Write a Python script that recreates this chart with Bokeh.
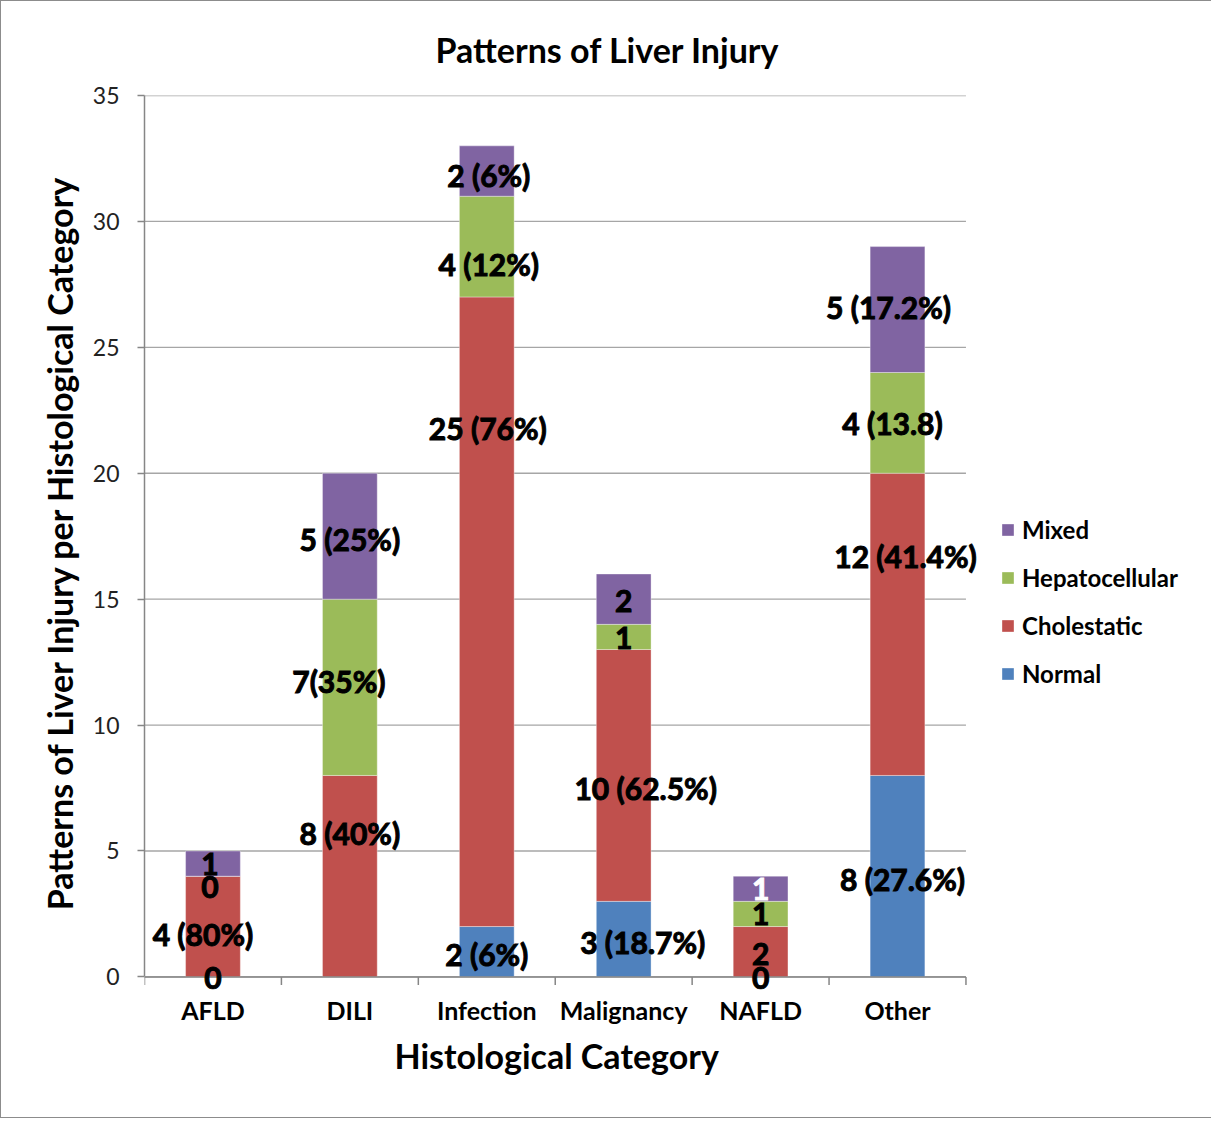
from bokeh.plotting import figure
from bokeh.models import ColumnDataSource, FixedTicker, Legend, LegendItem, Range1d, Title
from bokeh.core.properties import value
from bokeh.embed import file_html
from bokeh.resources import INLINE

# ---------------- data ----------------
categories = ["AFLD", "DILI", "Infection", "Malignancy", "NAFLD", "Other"]
series = ["Normal", "Cholestatic", "Hepatocellular", "Mixed"]
normal = [0, 0, 2, 3, 0, 8]
cholestatic = [4, 8, 25, 10, 2, 12]
hepatocellular = [0, 7, 4, 1, 1, 4]
mixed = [1, 5, 2, 2, 1, 5]

normal_labels = ["0", "", "2 (6%)", "3 (18.7%)", "0", "8 (27.6%)"]
cholestatic_labels = ["4 (80%)", "8 (40%)", "25 (76%)", "10 (62.5%)", "2", "12 (41.4%)"]
hepatocellular_labels = ["0", "7(35%)", "4 (12%)", "1", "1", "4 (13.8)"]
mixed_labels = ["1", "5 (25%)", "2 (6%)", "2", "1", "5 (17.2%)"]

y_ticks = [0, 5, 10, 15, 20, 25, 30, 35]

title_text = "Patterns of Liver Injury"
x_title = "Histological Category"
y_title = "Patterns of Liver Injury per Histological Category"

# ---------------- style ----------------
colors = ["#4F81BD", "#C0504D", "#9BBB59", "#8064A2"]
FONT = "Lato"
LABEL_SIZE = "30px"
AXIS_COLOR = "#868686"
GRID_COLOR = "#A6A6A6"
PX_PER_UNIT = 25.18          # frame height / y span
TICK_LEN = 8 / PX_PER_UNIT   # boundary tick length (8 px) in data units
PAD_BELOW = 0.5              # room below the zero line so labels on it are not cut
PAD_RIGHT = 0.15             # room right of the last bar for its wide label
# label nudges in screen pixels (dx right, dy down), as placed in the original
nudge_dx = [[0, 0, 0, 19, 0, 5],
            [-10, 0, 1, 22, 0, 8],
            [-3, -11, 2, 0, 0, -5],
            [-3, 0, 2, 0, 0, -9]]
nudge_dy = [[1, 0, 2, 3, 1, 3],
            [7, -43, -184, 13, 2, -68],
            [11, -6, 17, 1, 0, 0],
            [0, 3, 4, 2, 0, -3]]
label_colors = [["black"] * 6, ["black"] * 6, ["black"] * 6,
                ["black", "black", "black", "black", "white", "black"]]

# ---------------- build ----------------
n = len(categories)
xs = [i + 0.5 for i in range(n)]
values = [normal, cholestatic, hepatocellular, mixed]
labels = [normal_labels, cholestatic_labels, hepatocellular_labels, mixed_labels]
y_max = y_ticks[-1]

data = {"x": xs}
for name, vals in zip(series, values):
    data[name] = vals
source = ColumnDataSource(data)

p = figure(
    frame_width=842, frame_height=894,
    min_border_left=143, min_border_right=208,
    min_border_top=94, min_border_bottom=128,
    x_range=Range1d(0, n + PAD_RIGHT), y_range=Range1d(-PAD_BELOW, y_max),
    output_backend="svg", toolbar_location=None,
    background_fill_color="white", border_fill_color="white",
)
p.styles = {"border": "1px solid #8c8c8c"}
p.outline_line_color = None
p.xgrid.visible = False
p.ygrid.visible = False

# horizontal gridlines across the category span
p.segment(x0=[0] * len(y_ticks), x1=[n] * len(y_ticks), y0=y_ticks, y1=y_ticks,
          line_color=GRID_COLOR, line_width=1.3)

renderers = p.vbar_stack(series, x="x", width=0.4, source=source,
                         color=colors, line_color="white", line_width=0.6, line_alpha=0.6)

# category axis line at zero with boundary ticks
p.segment(x0=[0], x1=[n], y0=[0], y1=[0], line_color=AXIS_COLOR, line_width=1.5)
bounds = list(range(n + 1))
p.segment(x0=bounds, x1=bounds, y0=[0] * len(bounds), y1=[-TICK_LEN] * len(bounds),
          line_color=AXIS_COLOR, line_width=1.5)

# data labels
lx, ly, lt, ldx, ldy, lc = [], [], [], [], [], []
base = [0] * n
for s in range(len(series)):
    for i in range(n):
        v = values[s][i]
        if labels[s][i] != "":
            lx.append(xs[i])
            ly.append(base[i] + v / 2)
            lt.append(labels[s][i])
            ldx.append(nudge_dx[s][i])
            ldy.append(nudge_dy[s][i])
            lc.append(label_colors[s][i])
        base[i] += v
lsrc = ColumnDataSource(dict(x=lx, y=ly, text=lt, dx=ldx, dy=ldy, c=lc))
p.text(x="x", y="y", text="text", x_offset="dx", y_offset="dy", source=lsrc,
       text_align="center", text_baseline="middle", text_color="c",
       text_outline_color="c",
       text_font=value(FONT), text_font_style="bold", text_font_size=LABEL_SIZE)

# title
p.title.text = title_text
p.title.align = "left"
p.title.vertical_align = "top"
p.title.offset = 291
p.title.standoff = 48
p.title.text_font = FONT
p.title.text_font_size = "34px"
p.title.text_font_style = "bold"
p.title.text_color = "black"

# y axis
ya = p.yaxis[0]
ya.ticker = FixedTicker(ticks=y_ticks)
ya.bounds = (0, y_max)
ya.axis_line_color = AXIS_COLOR
ya.axis_line_width = 1.5
ya.major_tick_line_color = AXIS_COLOR
ya.major_tick_line_width = 1.5
ya.major_tick_out = 7
ya.major_tick_in = 0
ya.minor_tick_line_color = None
ya.major_label_text_font = FONT
ya.major_label_text_font_size = "23px"
ya.major_label_text_color = "#222222"
ya.major_label_standoff = 18
ya.axis_label = y_title
ya.axis_label_text_font = FONT
ya.axis_label_text_font_size = "34px"
ya.axis_label_text_font_style = "bold"
ya.axis_label_text_color = "black"
ya.axis_label_standoff = 10

# x axis: category names under the bars
xa = p.xaxis[0]
xa.ticker = FixedTicker(ticks=xs)
xa.major_label_overrides = {x: c for x, c in zip(xs, categories)}
xa.axis_line_color = None
xa.major_tick_line_color = None
xa.minor_tick_line_color = None
xa.major_tick_out = 0
xa.major_tick_in = 0
xa.major_label_text_font = FONT
xa.major_label_text_font_size = "25px"
xa.major_label_text_font_style = "bold"
xa.major_label_text_color = "black"
xa.major_label_standoff = 5

# x axis title, centred under the category span (not the padded frame)
p.add_layout(Title(text=x_title, align="left", vertical_align="top", offset=250,
                   standoff=14, text_font=FONT, text_font_size="34px",
                   text_font_style="bold", text_color="black"), "below")

# legend (reverse order, to the right of the plot)
items = [LegendItem(label=series[k], renderers=[renderers[k]]) for k in reversed(range(len(series)))]
legend = Legend(items=items, location=(14, 301), orientation="vertical",
                glyph_width=15, glyph_height=15, label_height=29, spacing=19,
                label_standoff=7, padding=0, margin=0,
                border_line_color=None, background_fill_alpha=0,
                label_text_font=FONT, label_text_font_size="24px",
                label_text_font_style="bold", label_text_color="black")
p.add_layout(legend, "right")

open("out.html", "w").write(file_html(p, INLINE))
